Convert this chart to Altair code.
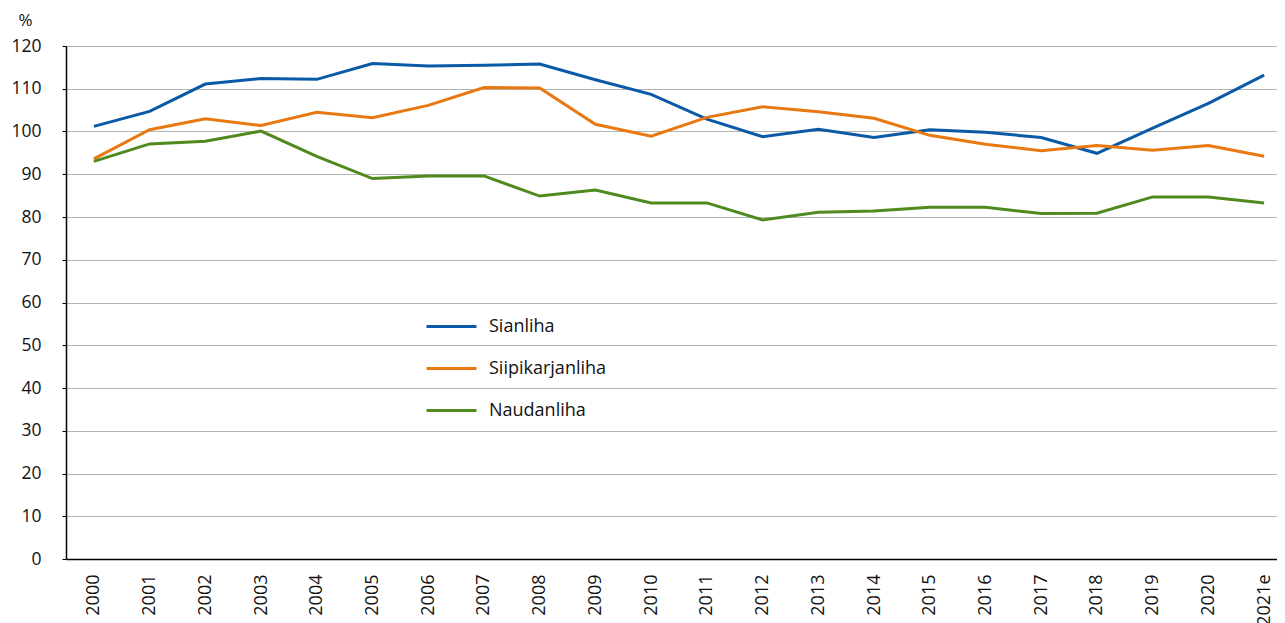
import altair as alt
import pandas as pd

years = ["2000", "2001", "2002", "2003", "2004", "2005", "2006", "2007", "2008", "2009", "2010",
         "2011", "2012", "2013", "2014", "2015", "2016", "2017", "2018", "2019", "2020", "2021e"]

sianliha = [101.2, 104.7, 111.1, 112.4, 112.2, 115.9, 115.3, 115.5, 115.8, 112.1, 108.7,
            102.9, 98.8, 100.5, 98.6, 100.4, 99.8, 98.6, 94.9, 100.8, 106.6, 113.2]
siipikarjanliha = [93.6, 100.4, 103.0, 101.4, 104.5, 103.2, 106.1, 110.3, 110.2, 101.7, 98.9,
                   103.3, 105.8, 104.6, 103.1, 99.1, 97.0, 95.5, 96.7, 95.6, 96.7, 94.2]
naudanliha = [93.0, 97.1, 97.7, 100.1, 94.2, 89.0, 89.6, 89.6, 84.9, 86.3, 83.3,
              83.3, 79.3, 81.1, 81.4, 82.3, 82.3, 80.8, 80.9, 84.7, 84.7, 83.3]

series_names = ["Sianliha", "Siipikarjanliha", "Naudanliha"]
series_colors = ["#0a5aa8", "#e8780f", "#4f8a1e"]

rows = []
for name, vals in zip(series_names, [sianliha, siipikarjanliha, naudanliha]):
    for yr, v in zip(years, vals):
        rows.append({"Vuosi": yr, "Arvo": v, "Sarja": name})
df = pd.DataFrame(rows)

FONT = "Open Sans"

chart = alt.Chart(df).mark_line(strokeWidth=3).encode(
    x=alt.X("Vuosi:O", sort=years,
            scale=alt.Scale(type="point", padding=0.5),
            axis=alt.Axis(title=None, labelAngle=-90, tickSize=0, labelPadding=15,
                          domainColor="#000000", domainWidth=1.5, grid=False,
                          labelFont=FONT, labelFontSize=18, labelColor="#111111")),
    y=alt.Y("Arvo:Q", scale=alt.Scale(domain=[0, 120], nice=False),
            axis=alt.Axis(values=list(range(0, 121, 10)), title="%", titleAngle=0,
                          titleX=-41, titleY=-17, titleAlign="center", titleBaseline="bottom",
                          titleFont=FONT, titleFontSize=17, titleFontWeight="normal",
                          titleColor="#111111",
                          tickSize=4, tickColor="#000000", labelPadding=21,
                          domainColor="#000000", domainWidth=1.5,
                          gridColor="#b4b4b4", gridWidth=1,
                          labelFont=FONT, labelFontSize=17.5, labelColor="#111111")),
    color=alt.Color("Sarja:N",
                    scale=alt.Scale(domain=series_names, range=series_colors),
                    legend=alt.Legend(title=None, orient="none", legendX=359, legendY=254,
                                      symbolType="stroke", symbolSize=2500,
                                      symbolStrokeWidth=3, labelFont=FONT,
                                      labelFontSize=18, labelColor="#111111",
                                      labelOffset=11, rowPadding=6)),
).properties(
    width=1226, height=513,
    autosize=alt.AutoSizeParams(type="none"),
    padding={"left": 58, "top": 38, "right": -15, "bottom": 64},
).configure_view(stroke=None).configure(background="#ffffff")

chart.save("out.html", embed_options={"renderer": "svg", "actions": False})
